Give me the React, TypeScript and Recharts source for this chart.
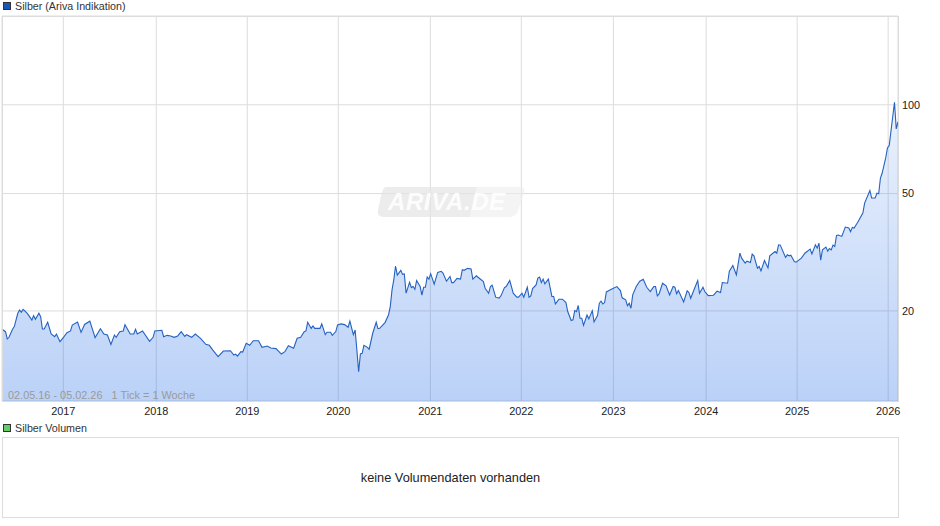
import { AreaChart, Area, XAxis, YAxis, CartesianGrid } from "recharts";

const FONT = "'Liberation Sans', Arial, sans-serif";
const GRID = "#dcdcdc";

// week number since 02.05.16 -> price
const weeksA = [0,2,3,4,6,7,9,10,11,12,14,15,17,18,19,21,22,23,24,26,28,30,31,33,35,37,39,40,43,45,47,50,53,56,58,60,62,64,65,67,69,70,73,75,76,77,80,84,86,87,91,92,94,96,98,100,102,104,105,108,110,113,116,118,120,123,126,130,132,133,134,136,137,139,141,143,146,148,151,153,156,159,161,163,166,168,170,172,173,174,176,177,178,181];
const pricesA = [17.33,17.01,16.07,16.28,17.33,17.7,19.64,20.16,19.79,20.26,19.74,19.39,18.63,19.29,18.73,19.64,19.13,17.37,17.37,18.3,16.7,16.36,16.7,15.73,16.28,16.87,17.11,17.9,18.35,16.92,18,18.46,16.24,17.41,16.7,16.57,15.41,16.57,16.28,17.01,17.11,17.95,16.7,16.7,17.33,16.7,17.11,15.77,16.28,17.11,17.2,16.36,16.53,16.45,16.28,16.45,17.01,16.4,16.62,16.28,16.7,16.15,15.41,15.29,14.73,13.99,14.62,14.66,14.17,14.28,14.06,14.55,14.51,15.53,15.29,15.85,15.85,15.05,15.21,14.98,14.9,14.28,14.55,15.25,14.94,16.15,16.28,17.01,17.11,18.3,17.45,17.79,17.45,17.45];

const weeksB = [182,184,185,187,188,190,191,193,195,197,198,200,201,202,203,204,205,206,208,209,211,213,214,215,218,220,221,222,223,224,225,227,228,229,230,232,233,234,235,236,238,239,240,241,242,243,244,246,248,250,251,253,255,256,257,259,261,262,263,265,267,268,270,272,274,275,277,278,279,281,283,284,286,287,289,291,293,294,296,297,299,300,301,302,304,305,306,307,308,309,311,313,314,315,317,319,321,322,324,325,326,327,328,329,330,331,333,334,336,337,339,340,341,342,343,344,346,348,350,352,353,355,356,357,358,359,361,363];
const pricesB = [18.07,16.62,16.93,16.93,16.53,17.02,17.93,18.07,17.97,17.6,18.46,16.62,17.24,14.75,12.44,14.3,14.37,15.29,15.05,14.83,16.8,18.31,17.41,17.46,18.26,19.38,20.69,23.56,25.49,28.4,26.46,27.46,26.6,26.68,22.97,25.02,24,24.19,23.69,25.36,24.19,22.62,24.06,24.06,26.05,25.65,26.75,24.63,27.03,27.25,26.89,25.22,26.18,24.95,24.95,25.78,25.65,27.6,27.46,27.89,27.75,25.65,26.32,25.72,25.15,23.88,22.97,24.19,24.45,22.27,22.1,22.5,24,24.19,25.36,22.97,22.27,22.27,22.97,22.27,24.06,22.27,22.5,23.82,24.5,25.85,26.05,24.95,25.65,24.69,25.65,22.39,22.39,21.12,21.92,21.92,21.35,19.9,18.56,18.66,20.05,19.9,20.87,18.9,18.9,17.88,19.38,18.8,20.05,18.36,19.33,21.24,21.57,21.12,21.35,23.2,23.56,23.88,24.19,23.45,22.16,21.8,20.81,21.24,20.42,22.67,24.19,25.22];

const weeksC = [365,367,369,371,372,373,374,376,378,380,382,383,384,385,388,390,391,392,394,396,397,399,400,402,405,407,409,410,413,414,416,418,420,421,423,424,426,427,428,430,431,432,434,436,437,440,441,442,443,446,447,448,449,451,452,455,457,460,461,463,464,465,466,467,469,470,471,472,473,474,475,476,478,480,482,483,484,485,487,490,491,494,495,497,498,499,500,501,503,504,505,508,509,510];
const pricesC = [25.62,24.06,23.27,24.19,24.19,22.49,22.85,24.83,24.32,22.66,24.19,24.06,22.85,23.45,21.46,23.39,23.08,22.08,23.69,25.36,22.96,24.06,23.27,22.55,22.61,23.33,23.08,24.97,24.83,27.28,28.52,26.5,31.39,30.2,29.04,29.49,29.19,31.15,30.75,27.92,28.29,27.35,29.65,27.99,30.75,31.81,31.39,33.51,33.43,30.36,30.99,30.75,30.91,29.42,29.26,30.2,31.39,32.39,31.23,33.51,32.65,33.95,29.73,32.22,32.91,31.89,32.56,32.22,33.43,33.08,36.07,36.16,35.79,38.5,38.2,37.12,38.4,38.2,39.91,42.95,46.41,51.24,48.29,48.29,50.18,49.92,56.45,58.7,66.05,71.39,72.72,102,82.82,87.46];

const weeks = [...weeksA, ...weeksB, ...weeksC];
const prices = [...pricesA, ...pricesB, ...pricesC];
const data = weeks.map((week, i) => ({ week, price: prices[i] }));

const yearTicks = [34.9, 87.8, 139.6, 191.4, 243.8, 295.6, 348, 400.8, 452.6, 504.4];
const yearLabels = ["2017", "2018", "2019", "2020", "2021", "2022", "2023", "2024", "2025", "2026"];
const priceTicks = [20, 50, 100];

function Legend({ top, color, label }: { top: number; color: string; label: string }) {
  return (
    <>
      <div style={{ position: "absolute", left: 3, top, width: 6, height: 6, background: color, border: "1px solid #333" }} />
      <div style={{ position: "absolute", left: 15, top: top - 3, fontSize: 10.7, lineHeight: "14px", color: "#333" }}>{label}</div>
    </>
  );
}

export default function App() {
  return (
    <div style={{ position: "absolute", left: 0, top: 0, width: 940, height: 526, fontFamily: FONT, background: "#fff" }}>
      <Legend top={2} color="#1a56b8" label="Silber (Ariva Indikation)" />
      <div style={{ position: "absolute", left: 0, top: 0 }}>
        <AreaChart width={940} height={420} data={data} margin={{ top: 16, right: 0, bottom: 0, left: 2 }}>
          <defs>
            <linearGradient id="silberFill" x1="0" y1="0" x2="0" y2="1">
              <stop offset="0%" stopColor="#1a66e6" stopOpacity={0.09} />
              <stop offset="100%" stopColor="#1a66e6" stopOpacity={0.3} />
            </linearGradient>
          </defs>
          <CartesianGrid stroke={GRID} />
          <XAxis
            dataKey="week" type="number" domain={[0, 510]} ticks={yearTicks}
            tickFormatter={(v: number) => yearLabels[yearTicks.indexOf(v)]}
            height={19} tickLine={false} axisLine={false} tickMargin={0} interval={0}
            tick={{ fontSize: 10.9, fill: "#222", fontFamily: FONT }}
          />
          <YAxis
            orientation="right" scale="log" domain={[9.9, 200]} ticks={priceTicks} allowDataOverflow
            width={42} tickLine={false} axisLine={false} tickMargin={0} interval={0}
            tick={{ fontSize: 10.9, fill: "#222", fontFamily: FONT, textAnchor: "start", dx: -2 }}
          />
          <Area dataKey="price" type="linear" stroke="#2562c0" strokeWidth={1.1} fill="url(#silberFill)" fillOpacity={1} isAnimationActive={false} dot={false} />
        </AreaChart>
      </div>
      <div style={{ position: "absolute", left: 2, top: 16, width: 895, height: 384, border: `1px solid ${GRID}`, pointerEvents: "none" }} />
      <div style={{ position: "absolute", left: 8, top: 389, fontSize: 10.9, lineHeight: "13px", color: "#9a9a9a", whiteSpace: "pre" }}>
        {"02.05.16 - 05.02.26   1 Tick = 1 Woche"}
      </div>
      <svg width={160} height={40} style={{ position: "absolute", left: 372, top: 182 }}>
        <path d="M14 5 H105 L98 35 H12 Q4 35 6 28 L9 14 Q11 5 14 5 Z" fill="#e4e4e4" fillOpacity={0.7} />
        <path d="M105 5 H148 Q154 5 152 11 L146 29 Q144 35 136 35 H98 Z" fill="#ececec" fillOpacity={0.6} />
        <text x={16} y={28} fontFamily={FONT} fontSize={24} fontWeight="bold" fontStyle="italic" fill="#fff" fillOpacity={0.9} letterSpacing={0.6}>ARIVA.DE</text>
      </svg>
      <Legend top={424} color="#66cc66" label="Silber Volumen" />
      <div style={{ position: "absolute", left: 2, top: 437, width: 895, height: 79, border: `1px solid ${GRID}`, display: "flex", alignItems: "center", justifyContent: "center", fontSize: 12.75, color: "#222" }}>
        keine Volumendaten vorhanden
      </div>
    </div>
  );
}
